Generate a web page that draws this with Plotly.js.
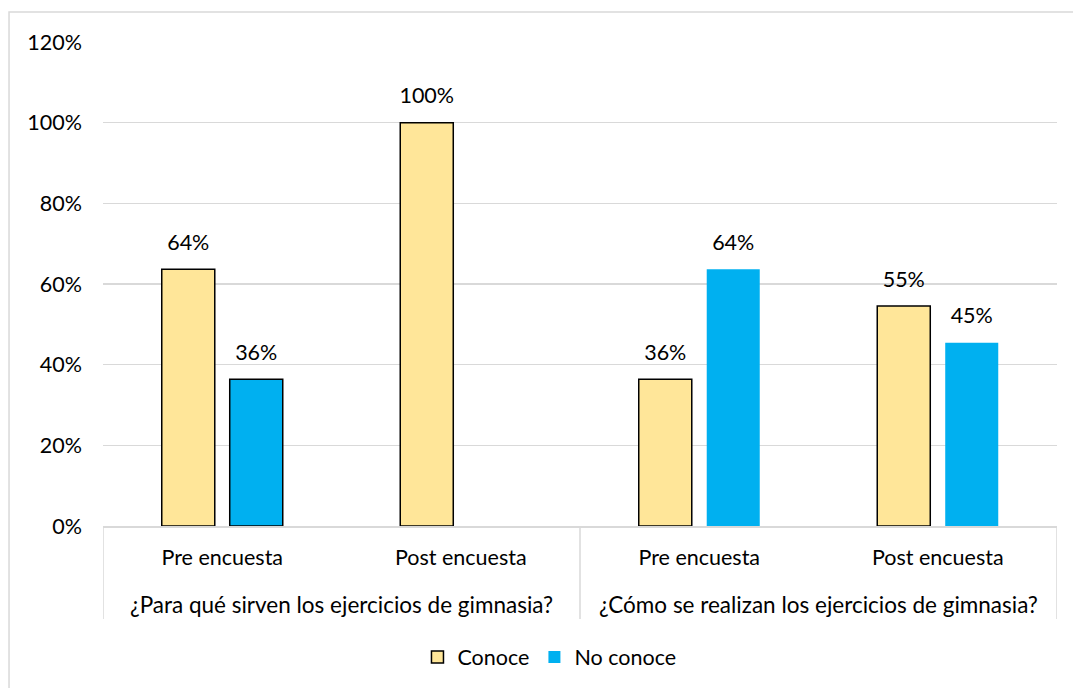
<!DOCTYPE html>
<html>
<head>
<meta charset="utf-8">
<script src="https://cdn.plot.ly/plotly-3.0.1.min.js"></script>
<style>
  html, body { margin: 0; padding: 0; background: #fff; }
  #chart { width: 1073px; height: 688px; }
</style>
</head>
<body>
<div id="chart"></div>
<script>
// Question groups (outer axis level) and survey stages (inner level)
const groups = ['¿Para qué sirven los ejercicios de gimnasia?', '¿Cómo se realizan los ejercicios de gimnasia?'];
const stages = ['Pre encuesta', 'Post encuesta'];

// Share of respondents per group/stage, in order:
// [group 1 pre, group 1 post, group 2 pre, group 2 post]
const conoce = [0.6364, 1.0, 0.3636, 0.5455];
const noConoce = [0.3636, null, 0.6364, 0.4545];

const seriesNames = ['Conoce', 'No conoce'];
const seriesColors = ['#FFE699', '#00B0F0'];

// One slot per group/stage pair along a numeric x axis
const slotLabels = [];
groups.forEach(() => stages.forEach(s => slotLabels.push(s)));
const slots = slotLabels.map((_, i) => i);

// "No conoce": the empty point is listed first so the legend swatch
// takes its (outline-free) style; only the first pre-survey bar is outlined.
const ncOrder = [1, 0, 2, 3];
const ncOutline = [0, 1.5, 0, 0];

const FONT = 'Lato, "Open Sans", "Liberation Sans", sans-serif';
const TXT = 21.5;
// value label plus a thin empty line underneath, lifting it off the bar top
const labelTemplate = '<span style="font-size:' + TXT + 'px">%{y:.0%}</span><br><span style="font-size:1px"> </span>';

const traces = [
  {
    type: 'bar',
    name: seriesNames[0],
    x: slots,
    y: conoce,
    marker: { color: seriesColors[0], line: { color: '#000000', width: 1.5 } },
    texttemplate: labelTemplate,
    textposition: 'outside',
    constraintext: 'none',
    cliponaxis: false,
    textfont: { family: FONT, size: 12.5, color: '#000000' },
    hoverinfo: 'none'
  },
  {
    type: 'bar',
    name: seriesNames[1],
    x: ncOrder.map(i => slots[i]),
    y: ncOrder.map(i => noConoce[i]),
    marker: { color: seriesColors[1], line: { color: '#000000', width: ncOutline } },
    texttemplate: labelTemplate,
    textposition: 'outside',
    constraintext: 'none',
    cliponaxis: false,
    textfont: { family: FONT, size: 12.5, color: '#000000' },
    hoverinfo: 'none'
  }
];

// group captions under the stage labels, centred on each group's slots
const groupAnnotations = groups.map((g, gi) => ({
  text: g,
  x: gi * stages.length + (stages.length - 1) / 2,
  xref: 'x',
  y: -0.163,
  yref: 'paper',
  yanchor: 'middle',
  showarrow: false,
  font: { family: FONT, size: 22.5, color: '#000000' }
}));

// vertical dividers at every group boundary
const dividers = [];
for (let b = 0; b <= groups.length; b++) {
  dividers.push({
    type: 'line',
    xref: 'x', yref: 'paper',
    x0: b * stages.length - 0.5, x1: b * stages.length - 0.5,
    y0: 0, y1: -0.192,
    line: { color: '#d9d9d9', width: 1.5 }
  });
}

const layout = {
  width: 1073,
  height: 688,
  paper_bgcolor: '#ffffff',
  plot_bgcolor: '#ffffff',
  font: { family: FONT, size: TXT, color: '#000000' },
  margin: { l: 103, r: 16, t: 42, b: 161 },
  barmode: 'group',
  bargap: 0.43,
  bargroupgap: 0.22,
  showlegend: true,
  legend: {
    orientation: 'h',
    x: 0.468, xanchor: 'center',
    y: -0.268, yanchor: 'middle',
    font: { family: FONT, size: TXT, color: '#000000' },
    itemwidth: 30,
    traceorder: 'normal'
  },
  xaxis: {
    range: [-0.5, slots.length - 0.5],
    tickmode: 'array',
    tickvals: slots,
    ticktext: slotLabels,
    showline: true,
    linecolor: '#d9d9d9',
    linewidth: 1.5,
    ticks: '',
    showgrid: false,
    zeroline: false,
    ticklabelstandoff: 12,
    tickfont: { family: FONT, size: TXT, color: '#000000' }
  },
  yaxis: {
    range: [0, 1.2],
    dtick: 0.2,
    tickformat: '.0%',
    showgrid: true,
    gridcolor: '#d9d9d9',
    gridwidth: 1.5,
    zeroline: false,
    showline: false,
    ticks: '',
    ticklabelstandoff: 20,
    tickfont: { family: FONT, size: TXT, color: '#000000' }
  },
  annotations: groupAnnotations,
  shapes: [
    {
      // chart frame
      type: 'rect', xref: 'paper', yref: 'paper',
      x0: -0.0985, x1: 1.3, y0: -0.6, y1: 1.062,
      line: { color: '#d9d9d9', width: 1.5 },
      fillcolor: 'rgba(0,0,0,0)', layer: 'below'
    }
  ].concat(dividers)
};

Plotly.newPlot('chart', traces, layout, { staticPlot: true, displayModeBar: false });
</script>
</body>
</html>
